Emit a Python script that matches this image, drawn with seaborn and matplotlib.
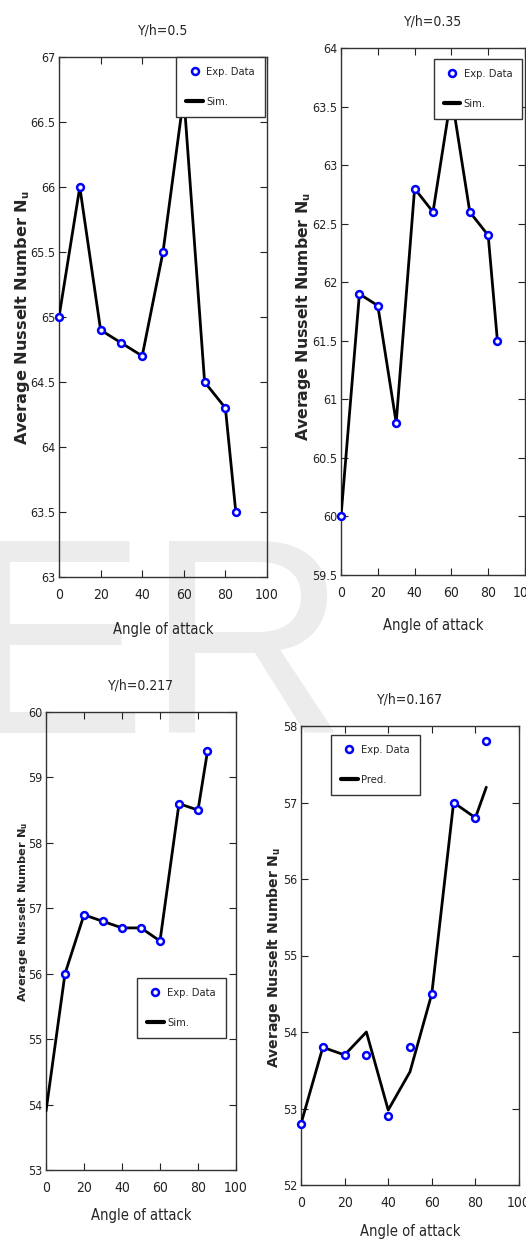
import numpy as np
import pandas as pd
import matplotlib
matplotlib.use('Agg')
import matplotlib.pyplot as plt
import seaborn as sns
from matplotlib.ticker import FuncFormatter, MultipleLocator
from matplotlib.lines import Line2D

# angle of attack (deg)
angle = [0, 10, 20, 30, 40, 50, 60, 70, 80, 85]

# Y/h = 0.5
exp_05 = [65.0, 66.0, 64.9, 64.8, 64.7, 65.5, 66.7, 64.5, 64.3, 63.5]
sim_05 = [65.0, 66.0, 64.9, 64.8, 64.7, 65.5, 66.7, 64.5, 64.3, 63.5]

# Y/h = 0.35
exp_035 = [60.0, 61.9, 61.8, 60.8, 62.8, 62.6, 63.6, 62.6, 62.4, 61.5]
sim_035 = [60.0, 61.9, 61.8, 60.8, 62.8, 62.6, 63.6, 62.6, 62.4, 61.5]

# Y/h = 0.217 (no exp. point at 0 deg)
angle_exp_0217 = [10, 20, 30, 40, 50, 60, 70, 80, 85]
exp_0217 = [56.0, 56.9, 56.8, 56.7, 56.7, 56.5, 58.6, 58.5, 59.4]
sim_0217 = [53.9, 56.0, 56.9, 56.8, 56.7, 56.7, 56.5, 58.6, 58.5, 59.4]

# Y/h = 0.167
exp_0167 = [52.8, 53.8, 53.7, 53.7, 52.9, 53.8, 54.5, 57.0, 56.8, 57.8]
pred_0167 = [52.8, 53.8, 53.7, 54.0, 52.98, 53.48, 54.5, 57.0, 56.8, 57.2]

sns.set_style('ticks')
plt.rcParams['font.family'] = ['DejaVu Sans']
plt.rcParams['font.stretch'] = 'condensed'

W, H = 526, 1245
fig = plt.figure(figsize=(W / 100, H / 100), dpi=100)

# faint watermark behind everything
fig.text(-40 / W, 1 - 733 / H, 'ER', fontsize=201, family='Liberation Sans',
         stretch='normal', color='#ececec', ha='left', va='baseline', zorder=-5)

# panel boxes in pixels: left, top, right, bottom
panels = [
    dict(box=(59, 57, 267, 577), title='Y/h=0.5', ylim=(63, 67), ystep=0.5,
         ex=angle, ey=exp_05, sx=angle, sy=sim_05, lab='Sim.',
         leg=(0.99, 1.0, 'upper right'), ylab=(27, 0.498, 11.6), xpad=14),
    dict(box=(341, 48, 525, 575), title='Y/h=0.35', ylim=(59.5, 64), ystep=0.5,
         ex=angle, ey=exp_035, sx=angle, sy=sim_035, lab='Sim.',
         leg=(0.985, 0.98, 'upper right'), ylab=(28, 0.49, 11.3), xpad=13),
    dict(box=(46, 712, 236, 1170), title='Y/h=0.217', ylim=(53, 60), ystep=1,
         ex=angle_exp_0217, ey=exp_0217, sx=angle, sy=sim_0217, lab='Sim.',
         leg=(0.945, 0.42, 'upper right'), ylab=(16, 0.563, 8.2), xpad=9),
    dict(box=(301, 726, 519, 1185), title='Y/h=0.167', ylim=(52, 58), ystep=1,
         ex=angle, ey=exp_0167, sx=angle, sy=pred_0167, lab='Pred.',
         leg=(0.138, 0.98, 'upper left'), ylab=(18, 0.497, 10.1), xpad=10),
]

fmt = FuncFormatter(lambda v, p: '%g' % round(v, 2))

for p in panels:
    l, t, r, b = p['box']
    ax = fig.add_axes([l / W, 1 - b / H, (r - l) / W, (b - t) / H])
    ax.set_facecolor('none')

    sns.lineplot(x=p['sx'], y=p['sy'], ax=ax, color='black', lw=2.0,
                 legend=False, zorder=3)
    sns.scatterplot(x=p['ex'], y=p['ey'], ax=ax, marker='o', s=24,
                    facecolor='white', edgecolor='blue', linewidth=1.8,
                    legend=False, zorder=4, clip_on=False)

    ax.set_xlim(0, 100)
    ax.set_ylim(*p['ylim'])
    ax.xaxis.set_major_locator(MultipleLocator(20))
    ax.yaxis.set_major_locator(MultipleLocator(p['ystep']))
    ax.yaxis.set_major_formatter(fmt)
    ax.tick_params(direction='in', top=True, right=True, length=5,
                   width=0.8, labelsize=9, colors='#222222')
    ax.tick_params(axis='x', labelsize=10, pad=8)
    ax.tick_params(axis='y', pad=2.5)
    for s in ax.spines.values():
        s.set_linewidth(1.0)
        s.set_color('#333333')

    ax.set_title(p['title'], fontsize=10, pad=16)
    ax.set_xlabel('Angle of attack', fontsize=10.5, labelpad=p['xpad'])
    dx, yc, fs = p['ylab']
    ax.set_ylabel(r'Average Nusselt Number N$_\mathbf{u}$', fontsize=fs,
                  fontweight='bold', stretch='normal')
    ax.yaxis.set_label_coords(-dx / (r - l), yc)

    handles = [Line2D([], [], ls='none', marker='o', ms=5, mfc='white',
                      mec='blue', mew=1.8),
               Line2D([], [], color='black', lw=3)]
    lx, ly, loc = p['leg']
    ax.legend(handles, ['Exp. Data', p['lab']], loc=loc,
              bbox_to_anchor=(lx, ly), fontsize=8, fancybox=False,
              edgecolor='#333333', framealpha=1, handlelength=1.5,
              labelspacing=1.8, borderpad=0.9, handletextpad=0.3,
              borderaxespad=0)

fig.savefig('out.png', dpi=100)
